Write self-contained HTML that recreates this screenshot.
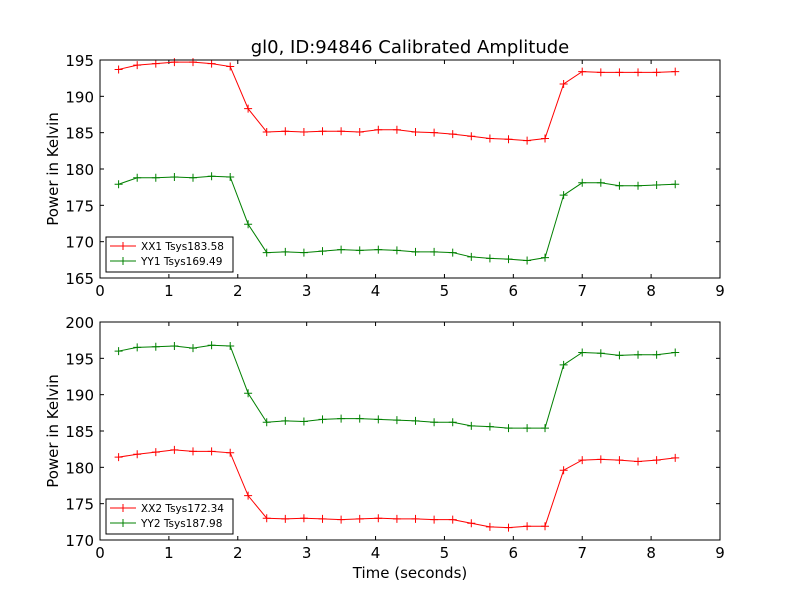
<!DOCTYPE html>
<html><head><meta charset="utf-8"><style>
body{margin:0;background:#fff}
svg{display:block;font-family:"DejaVu Sans","Liberation Sans",sans-serif}
</style></head><body>
<svg id="c" width="800" height="600" viewBox="0 0 800 600"></svg>
<script>
const xx1=[193.7,194.3,194.5,194.7,194.7,194.5,194.1,188.3,185.1,185.2,185.1,185.2,185.2,185.1,185.4,185.4,185.1,185.0,184.8,184.5,184.2,184.1,183.9,184.2,191.7,193.4,193.3,193.3,193.3,193.3,193.4];
const yy1=[177.9,178.8,178.8,178.9,178.8,179.0,178.9,172.4,168.5,168.6,168.5,168.7,168.9,168.8,168.9,168.8,168.6,168.6,168.5,167.9,167.7,167.6,167.4,167.8,176.4,178.1,178.1,177.7,177.7,177.8,177.9];
const xx2=[181.4,181.8,182.1,182.4,182.2,182.2,182.0,176.1,173.0,172.9,173.0,172.9,172.8,172.9,173.0,172.9,172.9,172.8,172.8,172.3,171.8,171.7,171.9,171.9,179.6,181.0,181.1,181.0,180.8,181.0,181.3];
const yy2=[196.0,196.5,196.6,196.7,196.4,196.8,196.7,190.2,186.2,186.4,186.3,186.6,186.7,186.7,186.6,186.5,186.4,186.2,186.2,185.7,185.6,185.4,185.4,185.4,194.1,195.8,195.7,195.4,195.5,195.5,195.8];
const times=[0.27,0.54,0.81,1.08,1.35,1.62,1.89,2.15,2.42,2.69,2.96,3.23,3.50,3.77,4.04,4.31,4.58,4.85,5.12,5.39,5.66,5.93,6.20,6.46,6.73,7.00,7.27,7.54,7.81,8.08,8.35];
const xTicks=[0,1,2,3,4,5,6,7,8,9];
const yTicks1=[165,170,175,180,185,190,195];
const yTicks2=[170,175,180,185,190,195,200];
const legend1=["XX1 Tsys183.58","YY1 Tsys169.49"];
const legend2=["XX2 Tsys172.34","YY2 Tsys187.98"];
const svg=document.getElementById('c');const NS='http://www.w3.org/2000/svg';
function el(t,a,p){const e=document.createElementNS(NS,t);for(const k in a)e.setAttribute(k,a[k]);(p||svg).appendChild(e);return e;}
function panel(top,bot,ymin,ymax,yt,s1,s2,leg,name){
 const L=100,R=720;
 const g=el('g',{});
 
 
 const X=v=>L+(v-0)/9*(R-L);const Y=v=>bot-(v-ymin)/(ymax-ymin)*(bot-top);
 xTicks.forEach(t=>{const x=X(t);
  el('line',{x1:x,x2:x,y1:bot,y2:bot-4,stroke:'#000'},g);el('line',{x1:x,x2:x,y1:top,y2:top+4,stroke:'#000'},g);
  const tx=el('text',{x:x,y:bot+18,'text-anchor':'middle','font-size':15},g);tx.textContent=t;
  
  });
 yt.forEach(t=>{const y=Y(t);
  el('line',{x1:L,x2:L+4,y1:y,y2:y,stroke:'#000'},g);el('line',{x1:R,x2:R-4,y1:y,y2:y,stroke:'#000'},g);
  const tx=el('text',{x:L-6,y:y+6,'text-anchor':'end','font-size':15},g);tx.textContent=t;
  
  });
 [[s1,'#ff0000','red'],[s2,'#008000','green']].forEach(([s,c,n])=>{
  const sg=el('g',{},g);
  
  
  el('polyline',{points:s.map((v,i)=>X(times[i])+','+Y(v)).join(' '),fill:'none',stroke:c,'stroke-width':1},sg);
  s.forEach((v,i)=>{const x=X(times[i]),y=Y(v);
   el('path',{d:`M${x-4},${y}H${x+4}M${x},${y-4}V${y+4}`,stroke:c},sg);});});
 el('rect',{x:L,y:top,width:R-L,height:bot-top,fill:'none',stroke:'#000'},g);
 const lg=el('g',{},g);
 
 
 el('rect',{x:106,y:bot-41,width:127,height:35,fill:'#fff',stroke:'#000'},lg);
 leg.forEach((t,i)=>{const y=bot-32+i*15,c=i?'#008000':'#ff0000';
  el('path',{d:`M110,${y}H136M123,${y-4}V${y+4}`,stroke:c},lg);
  const tx=el('text',{x:141,y:y+4,'font-size':10.5},lg);tx.textContent=t;});
 const yl=el('text',{x:0,y:0,'text-anchor':'middle','font-size':15,transform:`translate(58,${(top+bot)/2}) rotate(-90)`},g);
 yl.textContent='Power in Kelvin';
 
 
}
panel(60,278,165,195,yTicks1,xx1,yy1,legend1,'top-panel');
panel(322,540,170,200,yTicks2,xx2,yy2,legend2,'bottom-panel');
const t=el('text',{x:410,y:53,'text-anchor':'middle','font-size':18});t.textContent='gl0, ID:94846 Calibrated Amplitude';


const xl=el('text',{x:410,y:578,'text-anchor':'middle','font-size':15});xl.textContent='Time (seconds)';


</script>
</body></html>
